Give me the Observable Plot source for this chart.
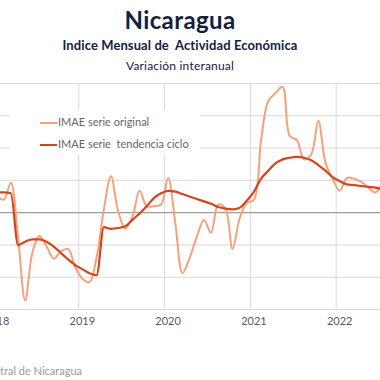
<!DOCTYPE html>
<html>
<head>
<meta charset="utf-8">
<script src="https://cdn.jsdelivr.net/npm/d3@7"></script>
<script src="https://cdn.jsdelivr.net/npm/@observablehq/plot@0.6"></script>
<style>
  body { margin: 0; background: #fff; }
  #wrap { position: relative; width: 380px; height: 380px; overflow: hidden; font-family: Lato, "Open Sans", sans-serif; background: #fff; }
  .t { position: absolute; left: 0; width: 360px; text-align: center; color: #14213d; white-space: nowrap; }
  #title { top: 5px; font-size: 24px; font-weight: 700; letter-spacing: 0.4px; }
  #subtitle { top: 37px; font-size: 13px; font-weight: 700; letter-spacing: 0.1px; }
  #note { top: 58px; font-size: 12px; letter-spacing: 0.2px; }
  #chart { position: absolute; left: 0; top: 73px; }
  #legend { position: absolute; left: 10px; top: 110px; width: 190px; height: 45px; background: #fff; font-size: 11px; color: #666; }
  .item { position: absolute; left: 30px; height: 14px; line-height: 14px; white-space: pre; }
  .sw { display: inline-block; width: 17px; vertical-align: middle; margin-right: 1px; }
  #caption { position: absolute; right: 298px; top: 364px; font-size: 11px; color: #9a9a9a; white-space: nowrap; }
</style>
</head>
<body>
<div id="wrap">
  <div class="t" id="title">Nicaragua</div>
  <div class="t" id="subtitle">Indice Mensual de&nbsp; Actividad Económica</div>
  <div class="t" id="note">Variación interanual</div>
  <div id="chart"></div>
  <div id="legend"></div>
  <div id="caption">Fuente: Banco Central de Nicaragua</div>
</div>
<script>
// Monthly series, starting January 2018 (year-over-year % change)
const startYear = 2018;
const original = [
  2.2, 1.6, 3.7, -3.0, -10.9, -5.0, -2.9, -4.2, -5.7, -4.8, -4.5, -6.7,   // 2018
  -8.2, -8.6, -5.5, 0.4, 4.5, 0.2, -2.0, -0.5, 2.7, 0.8, 0.8, 1.0,        // 2019
  4.3, -1.3, -7.5, -5.6, -3.0, -0.9, -2.5, 1.0, 0.5, -4.5, -0.7, 1.2,     // 2020
  1.6, 9.0, 13.8, 14.8, 15.6, 9.5, 9.0, 6.6, 7.2, 11.4, 6.2, 4.2,         // 2021
  2.7, 4.3, 4.2, 3.8, 3.1, 2.5, 3.8                                        // 2022
];
const trend = [
  2.5, 2.5, 2.4, -4.0, -3.6, -3.3, -3.3, -3.6, -4.2, -5.0, -5.8, -6.5,
  -7.0, -7.5, -7.75, -1.8, -2.0, -1.9, -1.7, -0.9, -0.1, 0.8, 1.8, 2.4,
  2.7, 2.6, 2.3, 2.0, 1.7, 1.4, 1.1, 0.7, 0.5, 0.4, 0.6, 1.5,
  2.6, 4.2, 5.2, 6.1, 6.6, 6.8, 6.9, 6.8, 6.5, 5.9, 5.2, 4.4,
  3.9, 3.5, 3.4, 3.3, 3.2, 3.1, 2.9
];
const yearTicks = [2018, 2019, 2020, 2021, 2022];
const seriesNames = ["IMAE serie original", "IMAE serie  tendencia ciclo"];
const colors = ["#f7a07c", "#d2461e"];

const t = (i) => startYear + (i + 0.5) / 12;
const dOrig = original.map((v, i) => ({x: t(i), y: v}));
const dTrend = trend.map((v, i) => ({x: t(i), y: v}));

const chart = Plot.plot({
  width: 380,
  height: 268,
  marginLeft: 0,
  marginRight: 0,
  marginTop: 10,
  marginBottom: 32,
  style: {fontFamily: "Lato, 'Open Sans', sans-serif", fontSize: "11px", color: "#595959", background: "transparent"},
  x: {domain: [2018.0874, 2022.5163], axis: null, label: null},
  y: {domain: [-12, 16], axis: null, label: null},
  marks: [
    Plot.gridY({ticks: d3.range(-12, 17, 4), stroke: "#d9d9d9", strokeOpacity: 1, strokeWidth: 1}),
    Plot.gridX({ticks: yearTicks.slice(1), stroke: "#d9d9d9", strokeOpacity: 1, strokeWidth: 1}),
    Plot.ruleY([0], {stroke: "#9e9e9e", strokeWidth: 1.2}),
    Plot.line(dOrig, {x: "x", y: "y", stroke: colors[0], strokeWidth: 2, curve: "catmull-rom", clip: true}),
    Plot.line(dTrend, {x: "x", y: "y", stroke: colors[1], strokeWidth: 2.2, curve: "monotone-x", clip: true}),
    Plot.axisX({ticks: yearTicks, tickSize: 0, tickPadding: 8, tickFormat: (d) => String(d), dx: 3.5, fill: "#595959", fontSize: 11, label: null})
  ]
});
document.getElementById("chart").appendChild(chart);

const legend = document.getElementById("legend");
seriesNames.forEach((name, i) => {
  const it = document.createElement("div");
  it.className = "item";
  it.style.top = (5 + i * 21.5) + "px";
  const sw = document.createElement("span");
  sw.className = "sw";
  sw.style.borderTop = (i === 0 ? 2 : 2.4) + "px solid " + colors[i];
  it.appendChild(sw);
  it.appendChild(document.createTextNode(name));
  legend.appendChild(it);
});
</script>
</body>
</html>
